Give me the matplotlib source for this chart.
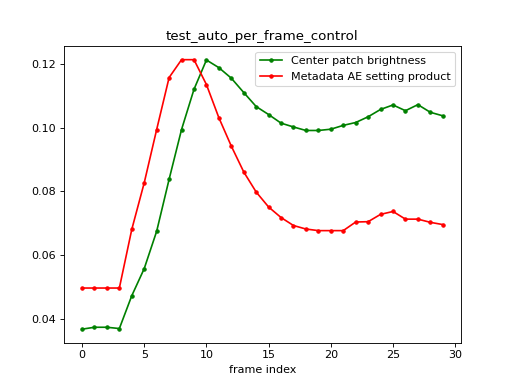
import numpy as np
import matplotlib
matplotlib.use("Agg")
import matplotlib.pyplot as plt

# frame data
frames = list(range(30))
center_brightness = [0.0368, 0.0374, 0.0374, 0.0370, 0.0473, 0.0558, 0.0675, 0.0838, 0.0994, 0.1120,
                     0.1212, 0.1188, 0.1155, 0.1110, 0.1066, 0.1041, 0.1014, 0.1002, 0.0991, 0.0991,
                     0.0995, 0.1007, 0.1016, 0.1034, 0.1057, 0.1071, 0.1053, 0.1072, 0.1048, 0.1037]
ae_product = [0.0497, 0.0497, 0.0497, 0.0497, 0.0681, 0.0827, 0.0994, 0.1157, 0.1213, 0.1213,
              0.1135, 0.1031, 0.0942, 0.0861, 0.0798, 0.0751, 0.0718, 0.0693, 0.0682, 0.0677,
              0.0677, 0.0677, 0.0704, 0.0705, 0.0728, 0.0737, 0.0713, 0.0713, 0.0703, 0.0696]

fig = plt.figure(figsize=(6.4, 4.8125), dpi=80)
plt.plot(frames, center_brightness, "g.-", label="Center patch brightness")
plt.plot(frames, ae_product, "r.-", label="Metadata AE setting product")
plt.xlabel("frame index")
plt.title("test_auto_per_frame_control")
plt.legend(loc="upper right")
plt.savefig("out.png", dpi=80)
